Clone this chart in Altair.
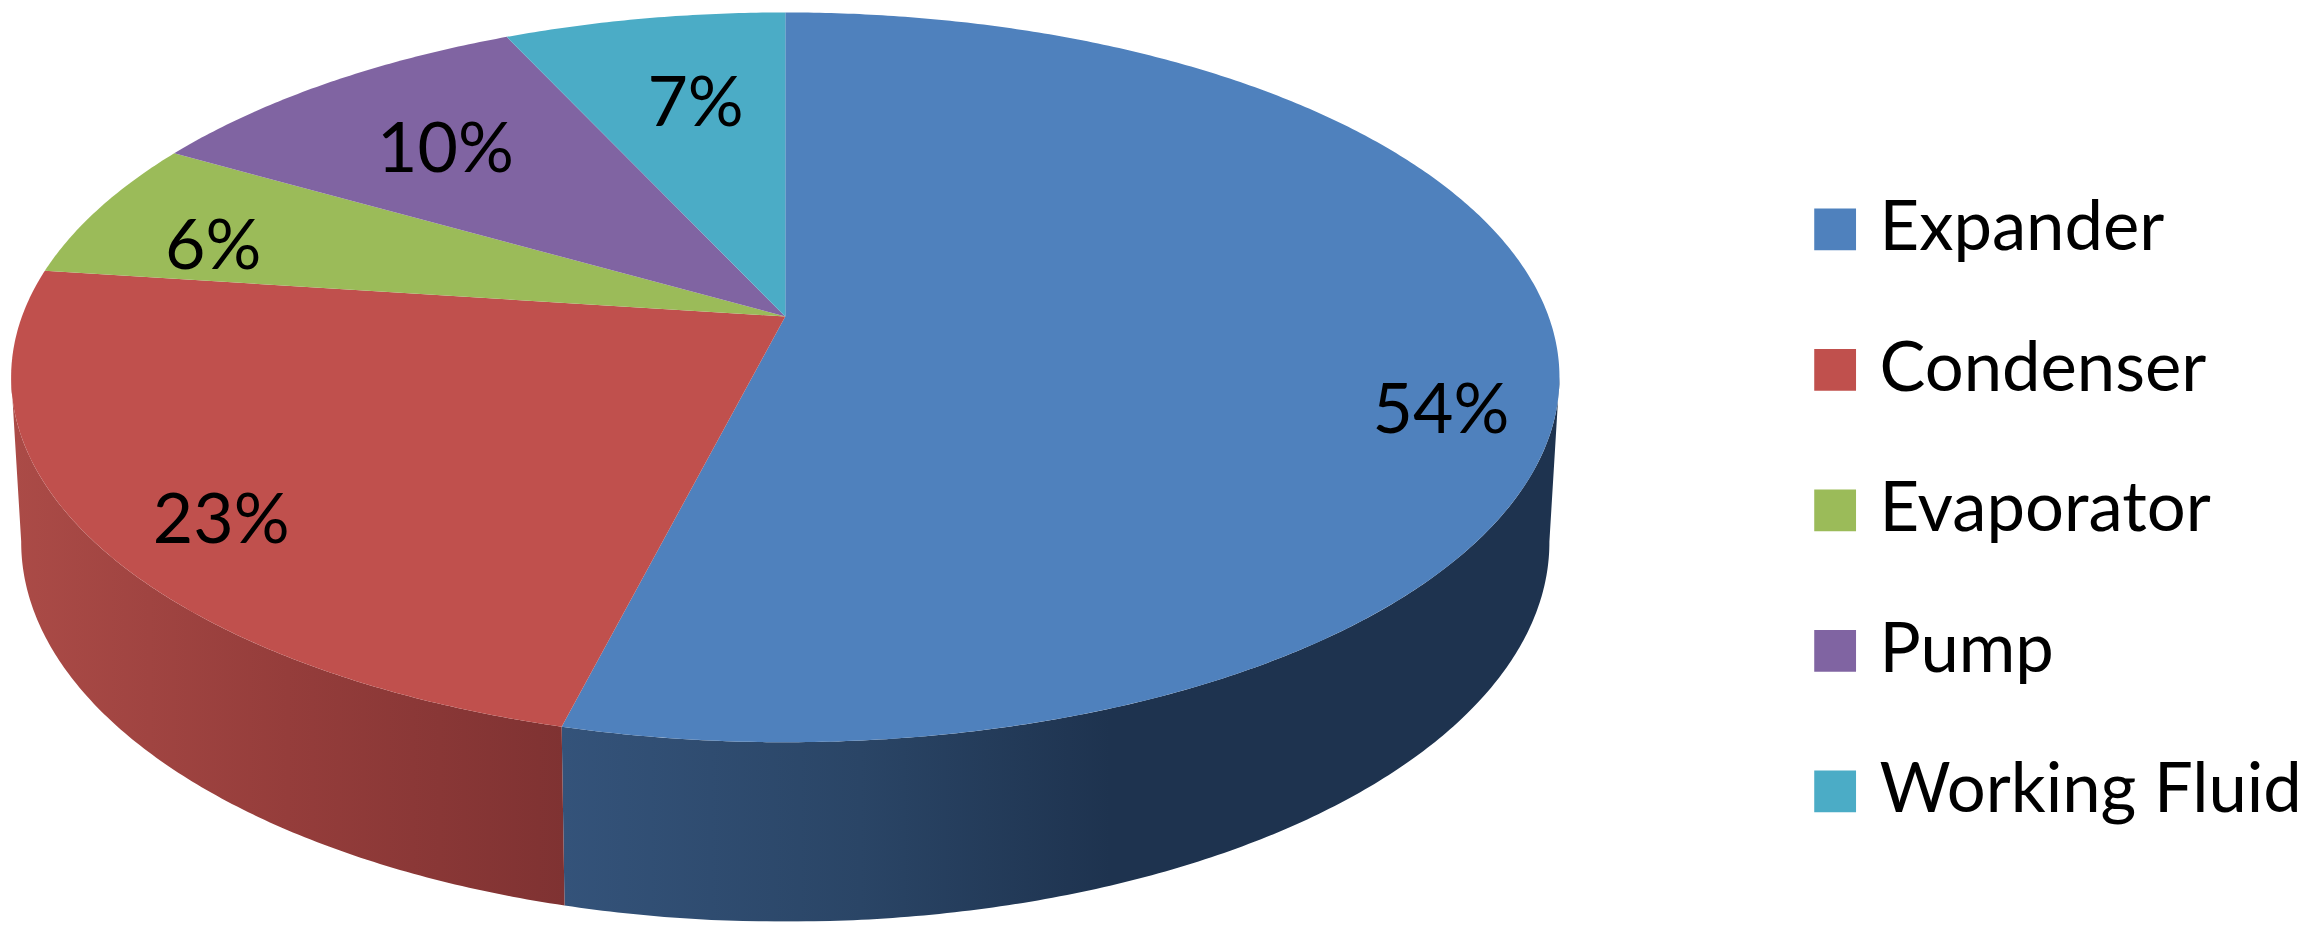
import math
import altair as alt

CATEGORIES = ["Expander", "Condenser", "Evaporator", "Pump", "Working Fluid"]
VALUES = [53.95, 23.15, 6.2, 9.8, 6.9]
COLORS = ["#4F81BD", "#C0504D", "#9BBB59", "#8064A2", "#4BACC6"]
LABEL_X = [1446, 222, 214, 447, 698]
LABEL_Y = [412, 522, 247, 150, 104]

# Pie geometry, in picture pixels (the page margin is removed below)
MARGIN = 8
APEX_X, APEX_Y = 788, 316
A, B, K = 766, 356, 1 / 6
TOP_CY = 378.5
WALL_SX, WALL_SY, WALL_CY = 0.987, 1.04, 544
RIGHT_THETA, LEFT_THETA = 99.5, 260.5
STEP = 0.5


def rim(theta):
    """Point of the pie's rim at a clockwise angle from 12 o'clock, in perspective."""
    t = math.radians(theta)
    u, v = math.sin(t), math.cos(t)
    d = 1 + K * v
    return APEX_X + A * u / d, APEX_Y - B * v / d


def base(theta):
    x, y = rim(theta)
    return APEX_X + (x - APEX_X) * WALL_SX, WALL_CY + (y - TOP_CY) * WALL_SY


def angles(a, b):
    n = max(2, int(abs(b - a) / STEP))
    return [a + (b - a) * i / n for i in range(n + 1)]


def page(points):
    return [[round(x - MARGIN, 2), round(y - MARGIN, 2)] for x, y in points]


def feature(points, name):
    pts = page(points)
    pts.append(pts[0])
    return {
        "type": "Feature",
        "properties": {"name": name},
        "geometry": {"type": "Polygon", "coordinates": [pts]},
    }


total = sum(VALUES)
top_faces, edges, acc = [], [], 0
for name, value in zip(CATEGORIES, VALUES):
    start, end = acc / total * 360, (acc + value) / total * 360
    acc += value
    edges.append((start, end))
    top_faces.append(feature([(APEX_X, APEX_Y)] + [rim(t) for t in angles(start, end)], name))


def wall(a, b, name):
    ts = angles(a, b)
    return feature([rim(t) for t in ts] + [base(t) for t in reversed(ts)], name)


exp_wall = wall(RIGHT_THETA, edges[0][1], "Expander wall")
con_wall = wall(edges[1][0], LEFT_THETA, "Condenser wall")

exp_gradient = alt.LinearGradient(
    gradient="linear", x1=0, x2=1, y1=0, y2=0,
    stops=[
        alt.GradientStop(color="#34537A", offset=0),
        alt.GradientStop(color="#2A4566", offset=0.3),
        alt.GradientStop(color="#1E334F", offset=0.55),
        alt.GradientStop(color="#1E334F", offset=1),
    ],
)
con_gradient = alt.LinearGradient(
    gradient="linear", x1=0, x2=1, y1=0, y2=0,
    stops=[
        alt.GradientStop(color="#AB4B47", offset=0),
        alt.GradientStop(color="#953D3B", offset=0.5),
        alt.GradientStop(color="#7F3232", offset=1),
    ],
)

wall_exp = alt.Chart(alt.Data(values=[exp_wall])).mark_geoshape(fill=exp_gradient, stroke=None)
wall_con = alt.Chart(alt.Data(values=[con_wall])).mark_geoshape(fill=con_gradient, stroke=None)

top = alt.Chart(alt.Data(values=top_faces)).mark_geoshape(strokeWidth=0).encode(
    color=alt.Color(
        "properties.name:N",
        sort=CATEGORIES,
        scale=alt.Scale(domain=CATEGORIES, range=COLORS),
        legend=alt.Legend(
            title=None,
            orient="none",
            legendX=1807 - MARGIN,
            legendY=186,
            symbolType="square",
            symbolSize=1760,
            symbolStrokeWidth=0,
            symbolOpacity=1,
            labelFont="Lato",
            labelFontSize=69,
            labelColor="#000000",
            labelLimit=600,
            labelOffset=10,
            rowPadding=71,
            padding=0,
        ),
    )
)

labels = alt.Chart(
    alt.Data(values=[
        {"lon": x - MARGIN, "lat": y - MARGIN, "text": f"{round(v)}%"}
        for x, y, v in zip(LABEL_X, LABEL_Y, VALUES)
    ])
).mark_text(font="Lato", fontSize=70, color="#000000", align="center", baseline="middle").encode(
    longitude="lon:Q", latitude="lat:Q", text="text:N"
)

chart = (
    alt.layer(wall_exp, wall_con, top, labels)
    .project(type="identity", scale=1, translate=[0, 0])
    .properties(width=2304, height=915, padding=0, autosize=alt.AutoSizeParams(type="none"))
    .configure_view(stroke=None)
)

chart.save("out.html", embed_options={"renderer": "svg", "actions": False})
